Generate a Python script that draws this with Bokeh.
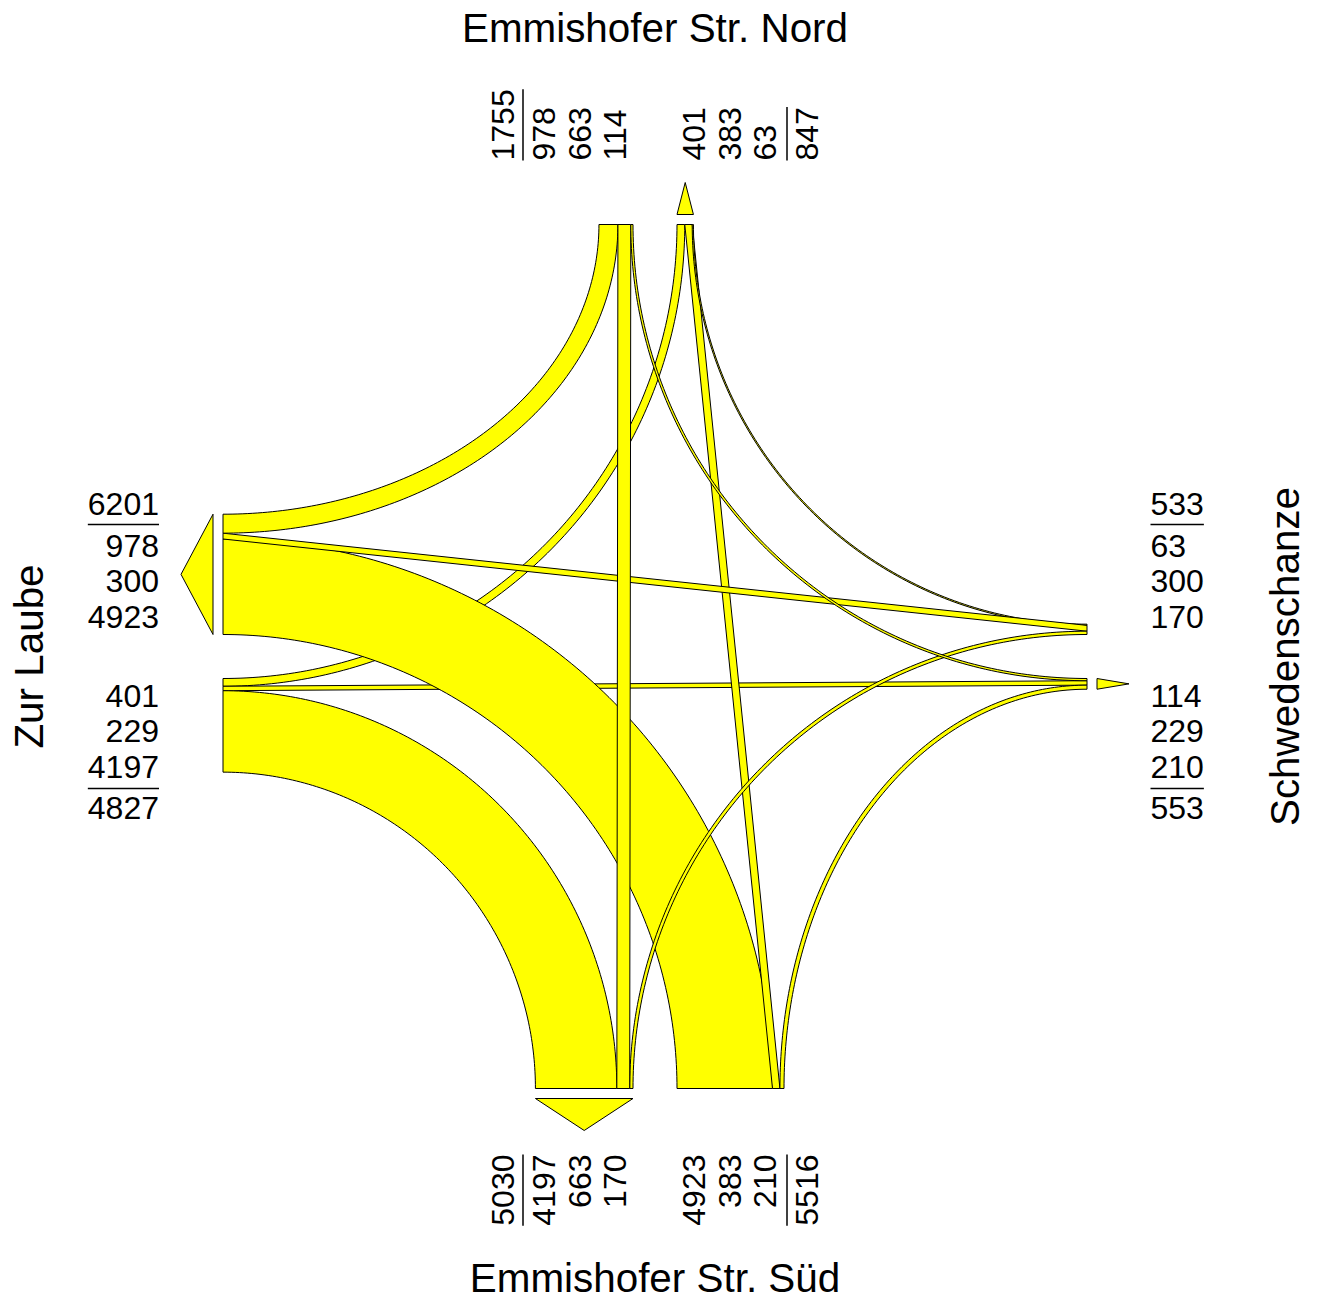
import numpy as np
from bokeh.plotting import figure
from bokeh.models import Range1d, ColumnDataSource
from bokeh.embed import file_html
from bokeh.resources import INLINE
from bokeh.core.properties import value

# ---------------- data ----------------
arm_codes = ["N", "S", "W", "E"]
arm_titles = ["Emmishofer Str. Nord", "Emmishofer Str. Süd", "Zur Laube", "Schwedenschanze"]

# traffic volumes leaving each arm, listed by destination arm
dest_from_N = ["W", "S", "E"]
vol_from_N = [978, 663, 114]
dest_from_S = ["W", "N", "E"]
vol_from_S = [4923, 383, 210]
dest_from_W = ["N", "E", "S"]
vol_from_W = [401, 229, 4197]
dest_from_E = ["N", "W", "S"]
vol_from_E = [63, 300, 170]

flows = {}
for o, dests, vols in [("W", dest_from_W, vol_from_W), ("S", dest_from_S, vol_from_S),
                       ("E", dest_from_E, vol_from_E), ("N", dest_from_N, vol_from_N)]:
    for d, v in zip(dests, vols):
        flows[(o, d)] = v
draw_order = [("W", dest_from_W), ("S", dest_from_S), ("E", dest_from_E), ("N", dest_from_N)]

# ---------------- layout ----------------
CXP, CYP = 654.5, 656.0          # position of the junction centre in the picture
L = 432.0                        # distance centre -> arm end
G = 22.0                         # half gap between the two directions
SCALE = 0.0194                   # px per vehicle
ARROW_GAP, ARROW_LEN = 10.0, 32.0
FS = 32
DIGIT_W = 0.556 * FS
INK_H = 0.716 * FS
BASE_FIX = 0.365                 # correction of the text baseline (in em)
D0, STEP, TOTAL_OFF, SEP_OFF = 39.5, 35.5, 152.0, 132.0
LABEL_GAP = {"N": 64.0, "S": 66.0, "W": 64.0, "E": 63.5}
FILL = "#FFFF00"
FONT = value("Liberation Sans")
W_FIG, H_FIG = 1310, 1300

vertical = {"N", "S"}
opposite = {"N": "S", "S": "N", "W": "E", "E": "W"}
arm_pos = {"N": L, "S": -L, "W": -L, "E": L}
from_sign = {"N": -1, "S": 1, "W": -1, "E": 1}


def partner_order(a):
    return ["W", opposite[a], "E"] if a in vertical else ["S", opposite[a], "N"]


def band_vols(a, kind):
    return [flows[(a, q)] if kind == "from" else flows[(q, a)] for q in partner_order(a)]


def band_sign(a, kind):
    return from_sign[a] if kind == "from" else -from_sign[a]


seg = {}
band_ext = {}
for a in arm_codes:
    for kind in ("from", "to"):
        vols = band_vols(a, kind)
        T = sum(vols) * SCALE
        s = band_sign(a, kind)
        start = -G - T if s < 0 else G
        band_ext[(a, kind)] = (start, start + T)
        u = start
        for q, v in zip(partner_order(a), vols):
            seg[(a, kind, q)] = (u, u + v * SCALE)
            u += v * SCALE


def pt(a, u):
    if a in vertical:
        return (u, arm_pos[a])
    return (arm_pos[a], u)


xs, ys = [], []
t = np.linspace(0, np.pi / 2, 120)
for o, dests in draw_order:
    for d in dests:
        a0, a1 = seg[(o, "from", d)]
        b0, b1 = seg[(d, "to", o)]
        if opposite[o] == d:
            pts = [pt(o, a0), pt(o, a1), pt(d, b1), pt(d, b0)]
            xs.append([p_[0] for p_ in pts])
            ys.append([p_[1] for p_ in pts])
        else:
            V, H = (o, d) if o in vertical else (d, o)
            segV = (a0, a1) if o == V else (b0, b1)
            segH = (a0, a1) if o == H else (b0, b1)
            xc, yc = arm_pos[H], arm_pos[V]
            rx = sorted(abs(x - xc) for x in segV)
            ry = sorted(abs(y - yc) for y in segH)
            sx, sy = -np.sign(xc), -np.sign(yc)
            xi = xc + sx * rx[0] * np.cos(t)
            yi = yc + sy * ry[0] * np.sin(t)
            xo = xc + sx * rx[1] * np.cos(t[::-1])
            yo = yc + sy * ry[1] * np.sin(t[::-1])
            xs.append(list(np.concatenate([xi, xo])))
            ys.append(list(np.concatenate([yi, yo])))

# arrows on the exit bands
axs, ays = [], []
for a in arm_codes:
    lo, hi = band_ext[(a, "to")]
    mid = (lo + hi) / 2
    sgn = np.sign(arm_pos[a])
    base = arm_pos[a] + sgn * ARROW_GAP
    tip = arm_pos[a] + sgn * (ARROW_GAP + ARROW_LEN)
    if a in vertical:
        axs.append([lo, hi, mid]); ays.append([base, base, tip])
    else:
        axs.append([base, base, tip]); ays.append([lo, hi, mid])

p = figure(width=W_FIG, height=H_FIG,
           x_range=Range1d(-CXP, W_FIG - CXP), y_range=Range1d(CYP - H_FIG, CYP),
           output_backend="svg", toolbar_location=None, min_border=0,
           x_axis_type=None, y_axis_type=None)
p.grid.visible = False
p.outline_line_color = None
p.background_fill_color = "white"

p.patches(xs, ys, fill_color=FILL, line_color="black", line_width=1)
p.patches(axs, ays, fill_color=FILL, line_color="black", line_width=1)

# ---------------- number labels ----------------
rot = {"x": [], "y": [], "text": [], "align": []}
hor = {"x": [], "y": [], "text": [], "align": []}
sx0, sx1, sy0, sy1 = [], [], [], []
fix = BASE_FIX * FS
for a in arm_codes:
    gap = LABEL_GAP[a]
    for kind in ("from", "to"):
        vols = band_vols(a, kind)
        n = len(vols)
        s = band_sign(a, kind)
        offs = [s * (D0 + STEP * (i if s > 0 else n - 1 - i)) for i in range(n)]
        texts = [str(v) for v in vols] + [str(sum(vols))]
        offs = offs + [s * TOTAL_OFF]
        width = len(texts[-1]) * DIGIT_W
        if a in vertical:
            if a == "N":
                yy, al = L + gap, "left"
                sy0.append(yy); sy1.append(yy + width)
            else:
                yy, al = -(L + gap), "right"
                sy0.append(yy); sy1.append(yy - width)
            sx0.append(s * SEP_OFF); sx1.append(s * SEP_OFF)
            for tx, off in zip(texts, offs):
                rot["x"].append(off + INK_H / 2 - fix); rot["y"].append(yy)
                rot["text"].append(tx); rot["align"].append(al)
        else:
            if a == "W":
                xx, al = -(L + gap), "right"
                sx0.append(xx - width); sx1.append(xx)
            else:
                xx, al = L + gap, "left"
                sx0.append(xx); sx1.append(xx + width)
            sy0.append(s * SEP_OFF); sy1.append(s * SEP_OFF)
            for tx, off in zip(texts, offs):
                hor["x"].append(xx); hor["y"].append(off - INK_H / 2 + fix)
                hor["text"].append(tx); hor["align"].append(al)

p.text(x="x", y="y", text="text", source=ColumnDataSource(rot), angle=np.pi / 2,
       text_align="align", text_baseline="alphabetic", text_font=FONT,
       text_font_size=value(f"{FS}px"), text_color="black")
p.text(x="x", y="y", text="text", source=ColumnDataSource(hor),
       text_align="align", text_baseline="alphabetic", text_font=FONT,
       text_font_size=value(f"{FS}px"), text_color="black")
p.segment(x0=sx0, y0=sy0, x1=sx1, y1=sy1, line_color="black", line_width=1.5)

# ---------------- arm titles ----------------
TFS = 40.4
tfix = BASE_FIX * TFS
p.text(x=[0, 0], y=[CYP - 42 + tfix, CYP - 1292 + tfix], text=[arm_titles[0], arm_titles[1]],
       text_align="center", text_baseline="alphabetic", text_font=FONT,
       text_font_size=value(f"{TFS}px"), text_color="black")
p.text(x=[43 - CXP - tfix, 1299 - CXP - tfix], y=[0, 0], text=[arm_titles[2], arm_titles[3]],
       angle=np.pi / 2, text_align="center", text_baseline="alphabetic", text_font=FONT,
       text_font_size=value(f"{TFS}px"), text_color="black")

with open("out.html", "w", encoding="utf-8") as f:
    f.write(file_html(p, INLINE, title="Knotenstrom"))
